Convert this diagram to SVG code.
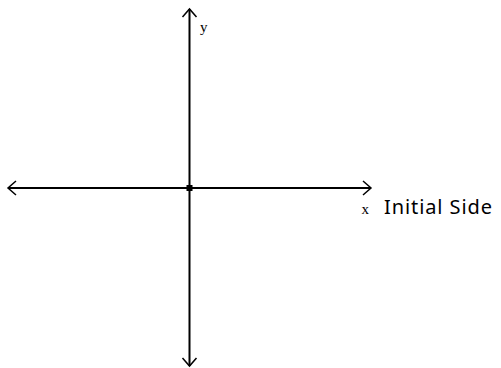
<svg xmlns="http://www.w3.org/2000/svg" width="501" height="368" viewBox="0 0 501 368">
<style>
.ax{stroke:#000;stroke-width:2;fill:none}
.hd{stroke:#000;stroke-width:1.5;fill:none}
.s{font-family:"Liberation Serif",serif;font-size:15px;fill:#000}
.t{font-family:"Noto Sans",sans-serif;font-size:20px;fill:#000}
</style>
<g id="connectors">
<line class="ax" x1="189.5" y1="9" x2="189.5" y2="366"/>
<line class="ax" x1="8" y1="188" x2="371" y2="188"/>
<polyline class="hd" points="182.5,17 189.5,9 196.5,17"/>
<polyline class="hd" points="182.5,358 189.5,366 196.5,358"/>
<polyline class="hd" points="16,181 8,188 16,195"/>
<polyline class="hd" points="363,181 371,188 363,195"/>
</g>
<g id="origin"><rect x="186.5" y="185" width="6" height="6" fill="#000"/></g>
<g id="ylabel"><text class="s" x="200" y="32">y</text></g>
<g id="xlabel"><text class="s" x="361.5" y="214">x</text></g>
<g id="initial"><text class="t" x="384" y="214" textLength="108" lengthAdjust="spacing">Initial Side</text></g>
</svg>
